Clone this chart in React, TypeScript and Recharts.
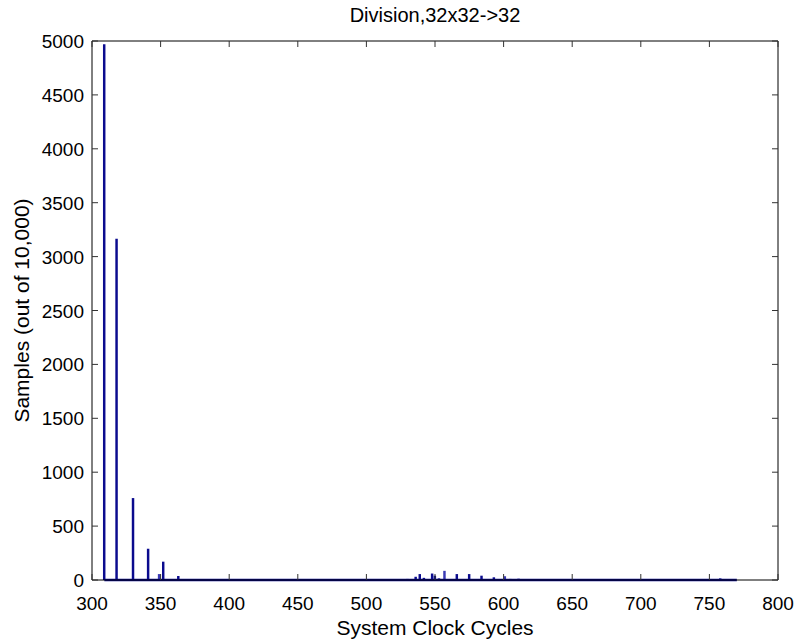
import React from 'react';
import { ComposedChart, Bar, Line, XAxis, YAxis, ReferenceLine, Label } from 'recharts';

const cycles = [309, 318, 330, 341, 349, 352, 363, 530, 536, 539, 542, 548, 550, 553, 557, 566, 575, 584, 593, 601, 605, 611, 758];
const thickCounts = [4970, 3165, 760, 290, 0, 170, 37, 10, 30, 55, 20, 60, 40, 15, 0, 55, 55, 40, 25, 0, 10, 12, 15];
const thinCounts = [0, 0, 0, 0, 55, 0, 0, 0, 0, 0, 0, 0, 0, 0, 85, 0, 0, 0, 0, 35, 0, 0, 0];
const xTicks = [300, 350, 400, 450, 500, 550, 600, 650, 700, 750, 800];
const yTicks = [0, 500, 1000, 1500, 2000, 2500, 3000, 3500, 4000, 4500, 5000];
const baselineRange = [309, 770];
const chartTitle = 'Division,32x32->32';
const xTitle = 'System Clock Cycles';
const yTitle = 'Samples (out of 10,000)';

const data = cycles.map((c, i) => ({ x: c, thick: thickCounts[i], thin: thinCounts[i] }));

const FONT = '"Liberation Sans", Arial, Helvetica, sans-serif';
const NAVY = '#0b0b8e';
const TICK_COLOR = '#333';
const TICK_LEN = 6;
const TICK_FONT = 19;
const LABEL_FONT = 21;

const W = 798;
const H = 643;
const PLOT_LEFT = 92;
const PLOT_RIGHT = 778;
const PLOT_TOP = 41;
const PLOT_BOTTOM = 580;

const BottomTick = (props: any) => {
  const { x, y, payload } = props;
  return (
    <g>
      <line x1={x} y1={y} x2={x} y2={y - TICK_LEN} stroke={TICK_COLOR} strokeWidth={1} />
      <text x={x} y={y + 30} textAnchor="middle" fontFamily={FONT} fontSize={TICK_FONT} fill="#000">
        {payload.value}
      </text>
    </g>
  );
};

const LeftTick = (props: any) => {
  const { x, y, payload } = props;
  return (
    <g>
      <line x1={x} y1={y} x2={x + TICK_LEN} y2={y} stroke={TICK_COLOR} strokeWidth={1} />
      <text x={x - 8} y={y + 7} textAnchor="end" fontFamily={FONT} fontSize={TICK_FONT} fill="#000">
        {payload.value}
      </text>
    </g>
  );
};

const TopTick = (props: any) => {
  const { x, y } = props;
  return <line x1={x} y1={y} x2={x} y2={y + TICK_LEN} stroke={TICK_COLOR} strokeWidth={1} />;
};

const RightTick = (props: any) => {
  const { x, y } = props;
  return <line x1={x} y1={y} x2={x - TICK_LEN} y2={y} stroke={TICK_COLOR} strokeWidth={1} />;
};

const XTitle = (props: any) => {
  const vb = props.viewBox;
  return (
    <text x={vb.x + vb.width / 2} y={635} textAnchor="middle" fontFamily={FONT} fontSize={LABEL_FONT} fill="#000">
      {xTitle}
    </text>
  );
};

const TitleLabel = (props: any) => {
  const vb = props.viewBox;
  return (
    <text x={vb.x + vb.width / 2} y={22} textAnchor="middle" fontFamily={FONT} fontSize={20} fill="#000">
      {chartTitle}
    </text>
  );
};

const YTitle = () => {
  const cy = (PLOT_TOP + PLOT_BOTTOM) / 2;
  const cx = 29;
  return (
    <text x={cx} y={cy} textAnchor="middle" transform={`rotate(-90 ${cx} ${cy})`} fontFamily={FONT} fontSize={LABEL_FONT} fill="#000">
      {yTitle}
    </text>
  );
};

export default function App() {
  return (
    <div style={{ position: 'absolute', left: 0, top: 0, width: W, height: H, background: '#fff' }}>
      <ComposedChart
        width={W}
        height={H}
        data={data}
        margin={{ top: PLOT_TOP - 1, right: W - PLOT_RIGHT - 1, bottom: 0, left: 0 }}
      >
        <XAxis
          xAxisId="b"
          type="number"
          dataKey="x"
          domain={[300, 800]}
          ticks={xTicks}
          allowDataOverflow
          orientation="bottom"
          height={H - PLOT_BOTTOM}
          tickSize={0}
          tickMargin={0}
          tickLine={false}
          axisLine={{ stroke: '#000' }}
          tick={<BottomTick />}
          interval={0}
        >
          <Label content={<XTitle />} />
          <Label content={<TitleLabel />} />
        </XAxis>
        <XAxis
          xAxisId="t"
          type="number"
          dataKey="x"
          domain={[300, 800]}
          ticks={xTicks}
          allowDataOverflow
          orientation="top"
          height={1}
          tickSize={0}
          tickMargin={0}
          tickLine={false}
          axisLine={{ stroke: '#000' }}
          tick={<TopTick />}
          interval={0}
        />
        <YAxis
          yAxisId="l"
          type="number"
          domain={[0, 5000]}
          ticks={yTicks}
          allowDataOverflow
          orientation="left"
          width={PLOT_LEFT}
          tickSize={0}
          tickMargin={0}
          tickLine={false}
          axisLine={{ stroke: '#000' }}
          tick={<LeftTick />}
          interval={0}
        >
          <Label content={<YTitle />} />
        </YAxis>
        <YAxis
          yAxisId="r"
          type="number"
          domain={[0, 5000]}
          ticks={yTicks}
          allowDataOverflow
          orientation="right"
          width={1}
          tickSize={0}
          tickMargin={0}
          tickLine={false}
          axisLine={{ stroke: '#000' }}
          tick={<RightTick />}
          interval={0}
        />
        <Line
          xAxisId="t"
          yAxisId="r"
          dataKey="thick"
          stroke="none"
          dot={false}
          activeDot={false}
          isAnimationActive={false}
        />
        <Bar xAxisId="b" yAxisId="l" dataKey="thick" stackId="s" barSize={3} fill={NAVY} isAnimationActive={false} />
        <Bar xAxisId="b" yAxisId="l" dataKey="thin" stackId="s" barSize={2} fill="#3a3ab4" isAnimationActive={false} />
        <ReferenceLine
          xAxisId="b"
          yAxisId="l"
          segment={[{ x: baselineRange[0], y: 0 }, { x: baselineRange[1], y: 0 }]}
          stroke={NAVY}
          strokeWidth={2.5}
        />
      </ComposedChart>
    </div>
  );
}
